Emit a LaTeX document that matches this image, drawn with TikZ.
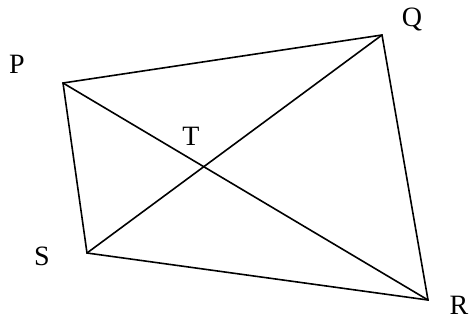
\documentclass[tikz,border=0pt]{standalone}
\usepackage{fontspec}
\setmainfont{Liberation Serif}
\begin{document}
\begin{tikzpicture}[x=1pt,y=-1pt,
  edge/.style={line width=1.6pt,line join=miter,line cap=round},
  lbl/.style={inner sep=0pt,font=\fontsize{28}{28}\selectfont}]
\useasboundingbox (0,0) rectangle (471,322);
\coordinate (P) at (63,83);
\coordinate (Q) at (382,35);
\coordinate (R) at (428,300);
\coordinate (S) at (87,253);
\draw[edge] (P) -- (Q) -- (R) -- (S) -- cycle;
\draw[edge] (P) -- (R);
\draw[edge] (S) -- (Q);
\node[lbl] (lP) at (17,64) {P};
\node[lbl] (lQ) at (412,19) {Q};
\node[lbl] (lR) at (459,305) {R};
\node[lbl] (lS) at (42,256) {S};
\node[lbl] (lT) at (191,136) {T};
\end{tikzpicture}
\end{document}
